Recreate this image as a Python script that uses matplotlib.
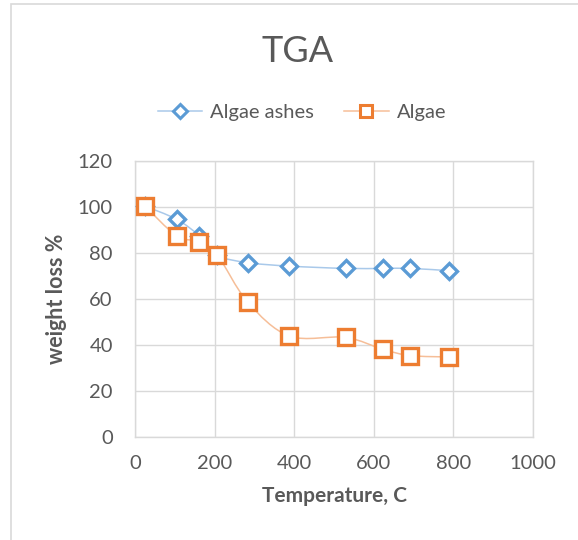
import matplotlib
matplotlib.use("Agg")
import matplotlib.pyplot as plt
from matplotlib.path import Path
from matplotlib.patches import PathPatch, Rectangle
from matplotlib.lines import Line2D

# Data
temperature = [25, 105, 162, 207, 283, 388, 529, 623, 692, 789]
algae_ashes = [100.4, 94.6, 87.4, 79.0, 75.8, 74.3, 73.3, 73.3, 73.3, 72.3]
algae = [100.4, 87.4, 84.9, 79.1, 58.7, 43.9, 43.3, 38.1, 35.4, 34.8]
series_names = ["Algae ashes", "Algae"]
x_ticks = [0, 200, 400, 600, 800, 1000]
y_ticks = [0, 20, 40, 60, 80, 100, 120]

BLUE = "#5B9BD5"
ORANGE = "#ED7D31"
TXT = "#595959"
FONT = ["Lato", "DejaVu Sans"]

plt.rcParams["font.family"] = FONT


def smooth_path(xs, ys, t=1 / 6):
    verts = [(xs[0], ys[0])]
    codes = [Path.MOVETO]
    n = len(xs)
    for i in range(n - 1):
        x0, y0 = (xs[i - 1], ys[i - 1]) if i > 0 else (xs[i], ys[i])
        x1, y1 = xs[i], ys[i]
        x2, y2 = xs[i + 1], ys[i + 1]
        x3, y3 = (xs[i + 2], ys[i + 2]) if i + 2 < n else (x2, y2)
        c1 = (x1 + (x2 - x0) * t, y1 + (y2 - y0) * t)
        c2 = (x2 - (x3 - x1) * t, y2 - (y3 - y1) * t)
        verts += [c1, c2, (x2, y2)]
        codes += [Path.CURVE4] * 3
    return Path(verts, codes)


fig = plt.figure(figsize=(5.78, 5.40), dpi=100)
fig.patch.set_facecolor("white")
fig.patches.append(Rectangle((11 / 578, -0.1), 1.2, (540 - 4) / 540 + 0.1,
                             transform=fig.transFigure, fill=False,
                             edgecolor="#D9D9D9", linewidth=1.2))

ax = fig.add_axes([135 / 578, 1 - 437 / 540, (533 - 135) / 578, (437 - 161) / 540])
ax.set_xlim(0, 1000)
ax.set_ylim(0, 120)
ax.set_xticks(x_ticks)
ax.set_yticks(y_ticks)
ax.grid(True, color="#D9D9D9", linewidth=1)
ax.set_axisbelow(True)
for s in ax.spines.values():
    s.set_color("#D9D9D9")
    s.set_linewidth(1)
ax.tick_params(length=0, colors=TXT, labelsize=14.5)
ax.tick_params(axis="y", pad=16)
ax.tick_params(axis="x", pad=13)

line_colors = ["#A9C9EA", "#F6BE98"]
ys_all = [algae_ashes, algae]
marker_specs = [("D", 8.5, BLUE), ("s", 11, ORANGE)]
for ys, lc, (m, ms, c) in zip(ys_all, line_colors, marker_specs):
    ax.add_patch(PathPatch(smooth_path(temperature, ys), fill=False,
                           edgecolor=lc, linewidth=1.1, zorder=2))
for ys, (m, ms, c) in zip(ys_all, marker_specs):
    ax.plot(temperature, ys, linestyle="none", marker=m, markersize=ms,
            markerfacecolor="white", markeredgecolor=c, markeredgewidth=2.4, zorder=3)

ax.set_xlabel("Temperature, C", fontsize=15, fontweight="bold", color=TXT, labelpad=10)
ax.set_ylabel("weight loss %", fontsize=15.5, fontweight="bold", color=TXT, labelpad=8)

fig.text(298 / 578, 1 - 51 / 540, "TGA", ha="center", va="center",
         fontsize=26, color=TXT)

handles = [Line2D([0], [0], color=lc, linewidth=1.1, marker=m, markersize=ms * 0.85,
                  markerfacecolor="white", markeredgecolor=c, markeredgewidth=2.2)
           for lc, (m, ms, c) in zip(line_colors, marker_specs)]
fig.legend(handles, series_names, loc="center", bbox_to_anchor=(302 / 578, 1 - 112 / 540),
           ncol=2, frameon=False, fontsize=14.5, handlelength=2.2, columnspacing=1.5,
           handletextpad=0.4, labelcolor=TXT)

fig.savefig("out.png", dpi=100, facecolor="white")
